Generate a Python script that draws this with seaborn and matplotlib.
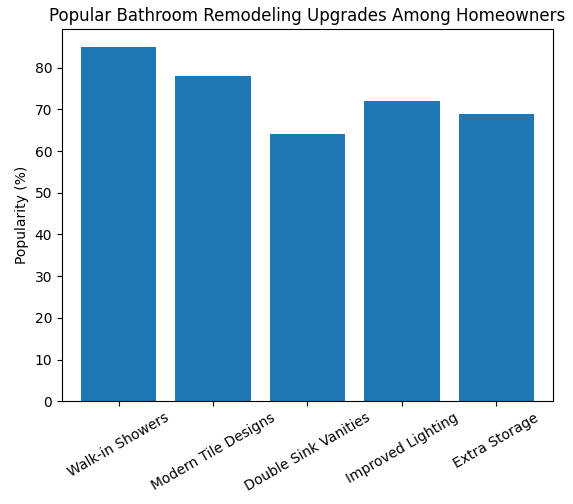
import matplotlib
matplotlib.use("Agg")
import matplotlib.pyplot as plt
import seaborn as sns
import pandas as pd

upgrades = ["Walk-in Showers", "Modern Tile Designs", "Double Sink Vanities",
            "Improved Lighting", "Extra Storage"]
popularity = [85, 78, 64, 72, 69]

df = pd.DataFrame({"upgrade": upgrades, "popularity": popularity})

fig, ax = plt.subplots(figsize=(5.73, 5.04), dpi=100)
sns.barplot(data=df, x="upgrade", y="popularity", color="#1f77b4",
            saturation=1, width=0.8, ax=ax)
ax.set_xlabel("")
ax.set_ylabel("Popularity (%)")
ax.set_title("Popular Bathroom Remodeling Upgrades Among Homeowners")
ax.tick_params(axis="x", rotation=30)
ax.set_xlim(-0.6, 4.6)
fig.subplots_adjust(left=0.108, right=0.965, top=0.942, bottom=0.204)
fig.savefig("out.png", dpi=100)
